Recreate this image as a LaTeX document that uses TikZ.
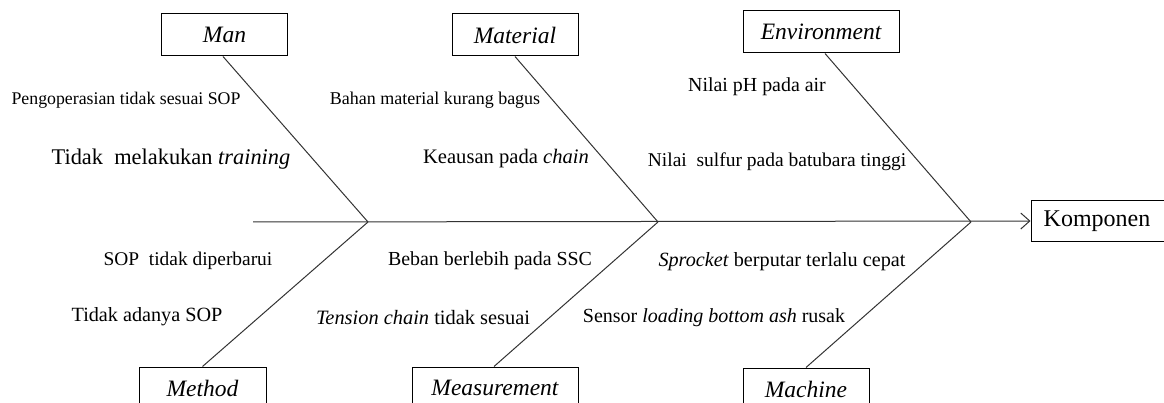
\documentclass[tikz,border=0pt]{standalone}
\usepackage{fontspec}
\setmainfont{Liberation Serif}
\usetikzlibrary{arrows.meta}
\tikzset{
  catbox/.style={draw, line width=1pt, minimum height=42pt, inner sep=0pt, font=\fontsize{23.5}{26}\selectfont\itshape},
  bone/.style={draw=black!80, line width=1pt},
  cause/.style={inner sep=0pt, font=\fontsize{#1}{#1}\selectfont},
  cause/.default=20,
}
\begin{document}
\begin{tikzpicture}[x=1pt,y=-1pt]
\useasboundingbox (0,0) rectangle (1164,403);
\clip (0,0) rectangle (1164,403);
% boxes
\node[catbox, minimum width=126pt] (man) at (224.5,35) {Man};
\node[catbox, minimum width=126pt] (mat) at (515,35) {Material};
\node[catbox, minimum width=156pt] (env) at (821,32) {Environment};
\node[catbox, minimum width=127pt] (met) at (202.5,388) {Method};
\node[catbox, minimum width=166pt] (mea) at (495,388) {Measurement};
\node[catbox, minimum width=126pt] (mac) at (806,389) {Machine};
\node[draw, line width=1pt, minimum width=140pt, minimum height=41pt, inner sep=0pt, font=\fontsize{24}{26}\selectfont] (komp) at (1101,221) {\hspace*{-8pt}Komponen};
% junctions
\coordinate (tail) at (253,222);
\coordinate (j1) at (368,222);
\coordinate (j2) at (658,222);
\coordinate (j3) at (971,222);
% bones
\draw[bone, -{Straight Barb[length=9pt,width=16pt,line width=1pt]}] (tail) -- (komp.west);
\draw[bone] (man.south -| 223,0) -- (j1);
\draw[bone] (mat.south) -- (j2);
\draw[bone] (env.south -| 825,0) -- (j3);
\draw[bone] (j1) -- (met.north);
\draw[bone] (j2) -- (mea.north -| 494,0);
\draw[bone] (j3) -- (mac.north);
% causes
\node[cause=17.8] (c1) at (126,100) {Pengoperasian tidak sesuai SOP};
\node[cause=22.4] (c2) at (171,159) {Tidak\ \ melakukan \textit{training}};
\node[cause=18] (c3) at (435,100) {Bahan material kurang bagus};
\node[cause=20.6] (c4) at (506,159) {Keausan pada \textit{chain}};
\node[cause=19.9] (c5) at (757,87) {Nilai pH pada air};
\node[cause=19.5] (c6) at (777,162) {Nilai\ \ sulfur pada batubara tinggi};
\node[cause=19.4] (c7) at (188,261) {SOP\ \ tidak diperbarui};
\node[cause=20.2] (c8) at (147,317) {Tidak adanya SOP};
\node[cause=19.9] (c9) at (490,261) {Beban berlebih pada SSC};
\node[cause=20.4] (c10) at (423,318) {\textit{Tension chain} tidak sesuai};
\node[cause=20.2] (c11) at (782,262) {\textit{Sprocket} berputar terlalu cepat};
\node[cause=20] (c12) at (714,318) {Sensor \textit{loading bottom ash} rusak};
\end{tikzpicture}
\end{document}
